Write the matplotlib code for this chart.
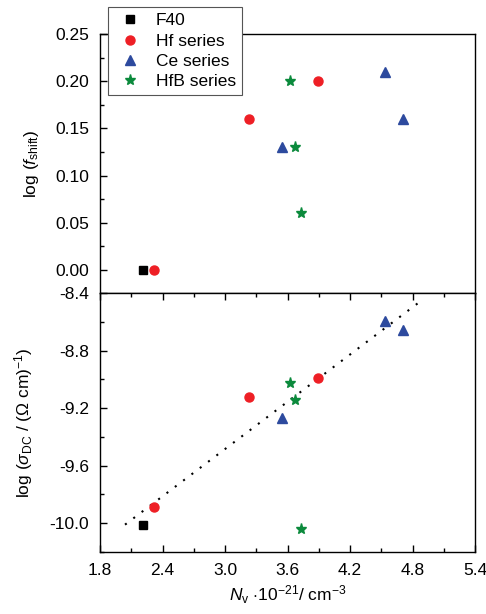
import matplotlib.pyplot as plt
from matplotlib.ticker import MultipleLocator

plt.rcParams['font.family'] = 'Liberation Sans'
plt.rcParams['mathtext.fontset'] = 'custom'
plt.rcParams['mathtext.rm'] = 'Liberation Sans'
plt.rcParams['mathtext.it'] = 'Liberation Sans:italic'

# datos
f40_x = [2.21]
f40_fshift = [0.00]
f40_sigma = [-10.01]

hf_x = [2.32, 3.23, 3.89]
hf_fshift = [0.00, 0.16, 0.20]
hf_sigma = [-9.885, -9.123, -8.99]

ce_x = [3.55, 4.54, 4.71]
ce_fshift = [0.13, 0.21, 0.16]
ce_sigma = [-9.267, -8.593, -8.658]

hfb_x = [3.62, 3.67, 3.73]
hfb_fshift = [0.20, 0.13, 0.06]
hfb_sigma = [-9.026, -9.144, -10.04]

ajuste_x = [2.04, 4.89]
ajuste_y = [-10.01, -8.45]

rojo = '#ee1f25'
azul = '#2d4a9e'
verde = '#0b8a3c'

fig = plt.figure(figsize=(4.86, 6.14), dpi=100)
ax1 = fig.add_axes([0.2058, 0.5228, 0.7716, 0.4218])
ax2 = fig.add_axes([0.2058, 0.1010, 0.7716, 0.4218])

ax1.plot(f40_x, f40_fshift, 's', color='black', ms=6, ls='none', label='F40')
ax1.plot(hf_x, hf_fshift, 'o', color=rojo, ms=6.5, ls='none', label='Hf series')
ax1.plot(ce_x, ce_fshift, '^', color=azul, ms=7.5, ls='none', label='Ce series')
ax1.plot(hfb_x, hfb_fshift, '*', color=verde, ms=8, ls='none', label='HfB series')

ax2.plot(ajuste_x, ajuste_y, color='black', ls=(0, (1, 4)), lw=1.5)
ax2.plot(f40_x, f40_sigma, 's', color='black', ms=6, ls='none')
ax2.plot(hf_x, hf_sigma, 'o', color=rojo, ms=6.5, ls='none')
ax2.plot(ce_x, ce_sigma, '^', color=azul, ms=7.5, ls='none')
ax2.plot(hfb_x, hfb_sigma, '*', color=verde, ms=8, ls='none')

for ax in (ax1, ax2):
    ax.set_xlim(1.8, 5.4)
    ax.xaxis.set_major_locator(MultipleLocator(0.6))
    ax.xaxis.set_minor_locator(MultipleLocator(0.3))
    ax.tick_params(which='both', direction='in', labelsize=12.5, width=1, pad=8)
    ax.tick_params(which='major', length=5)
    ax.tick_params(which='minor', length=3)
    for s in ax.spines.values():
        s.set_linewidth(1)

ax1.set_ylim(-0.0244, 0.25)
ax1.yaxis.set_major_locator(MultipleLocator(0.05))
ax1.yaxis.set_minor_locator(MultipleLocator(0.025))
ax1.yaxis.set_major_formatter(plt.FormatStrFormatter('%.2f'))
ax1.tick_params(axis='x', which='both', bottom=False, labelbottom=False)
ax1.set_ylabel(r'log ($\mathit{f}_{\mathrm{shift}}$)', fontsize=12.5, labelpad=10)

ax2.set_ylim(-10.2, -8.4)
ax2.yaxis.set_major_locator(MultipleLocator(0.4))
ax2.yaxis.set_minor_locator(MultipleLocator(0.2))
ax2.yaxis.set_major_formatter(plt.FormatStrFormatter('%.1f'))
ax2.tick_params(axis='x', which='both', top=True)
ax2.set_ylabel(r'log ($\sigma_{\mathrm{DC}}$ / ($\Omega$ cm)$^{-1}$)', fontsize=12.5, labelpad=10)
ax2.set_xlabel(r'$\mathit{N}_{\mathrm{v}}$ $\cdot$10$^{-21}$/ cm$^{-3}$', fontsize=12.5, labelpad=4)

fig.align_ylabels([ax1, ax2])

leg = ax1.legend(loc='upper left', bbox_to_anchor=(108 / 486, 1 - 7 / 614),
                 bbox_transform=fig.transFigure, borderaxespad=0, fontsize=12.5,
                 fancybox=False, edgecolor='#555555', framealpha=1,
                 labelspacing=0.3, handletextpad=0.6, borderpad=0.35,
                 handlelength=1.8)
leg.get_frame().set_linewidth(0.8)

fig.savefig('out.png', dpi=100)
